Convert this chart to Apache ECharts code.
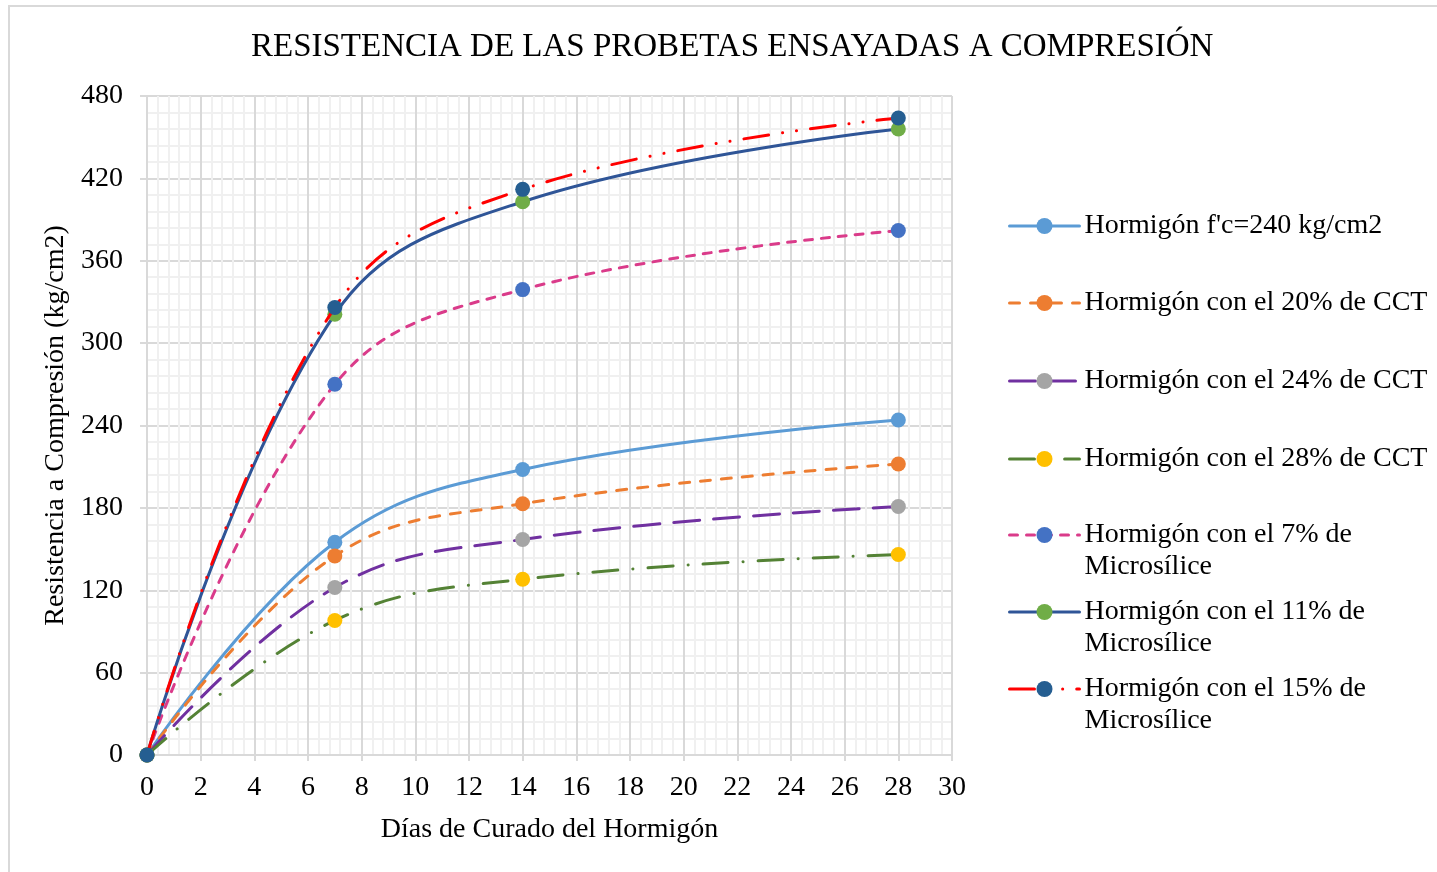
<!DOCTYPE html>
<html>
<head>
<meta charset="utf-8">
<script src="https://cdn.jsdelivr.net/npm/echarts@6/dist/echarts.min.js"></script>
<style>
  html, body { margin: 0; padding: 0; background: #fff; }
  #frame { position: absolute; left: 8px; top: 5px; width: 1440px; height: 880px;
           border-left: 2px solid #d9d9d9; border-top: 2px solid #d9d9d9; }
  #chart { position: absolute; left: 0; top: 0; width: 1437px; height: 872px; }
</style>
</head>
<body>
<div id="frame"></div>
<div id="chart"></div>
<script>
// días de curado
const days = [0, 7, 14, 28];

// resistencias (kg/cm2)
const fc240   = [0, 155, 208, 244];
const cct20   = [0, 145, 183, 212];
const cct24   = [0, 122, 157, 181];
const cct28   = [0, 98, 128, 146];
const micro7  = [0, 270, 339, 382];
const micro11 = [0, 321, 403, 456];
const micro15 = [0, 326, 412, 464];

const names = [
  "Hormigón f'c=240 kg/cm2",
  'Hormigón con el 20% de CCT',
  'Hormigón con el 24% de CCT',
  'Hormigón con el 28% de CCT',
  'Hormigón con el 7% de Microsílice',
  'Hormigón con el 11% de Microsílice',
  'Hormigón con el 15% de Microsílice',
];

const FONT = '"Liberation Serif", "Times New Roman", serif';

const styles = [
  { line: '#5B9BD5', mark: '#5B9BD5', dash: 'solid' },
  { line: '#ED7D31', mark: '#ED7D31', dash: [10, 11] },
  { line: '#7030A0', mark: '#A5A5A5', dash: [26, 14] },
  { line: '#548235', mark: '#FFC000', dash: [25, 15, 0.1, 15] },
  { line: '#DA3B8A', mark: '#4472C4', dash: [8, 9] },
  { line: '#2F5597', mark: '#70AD47', dash: 'solid' },
  { line: '#FF0000', mark: '#255E91', dash: [25, 14, 0.1, 14, 0.1, 14] },
];

const values = [fc240, cct20, cct24, cct28, micro7, micro11, micro15];

const series = values.map((vals, i) => ({
  name: names[i],
  type: 'line',
  smooth: 0.4,
  symbol: 'circle',
  symbolSize: 15,
  data: days.map((d, j) => [d, vals[j]]),
  lineStyle: { color: styles[i].line, width: 3, type: styles[i].dash, cap: 'round' },
  itemStyle: { color: styles[i].mark },
  z: 2 + i,
}));

// centro vertical de cada entrada de la leyenda
const legendCenters = [224, 301, 379, 457, 535, 612, 689];
const legends = names.map((n, i) => {
  const twoLine = n.endsWith('Microsílice');
  return {
    data: [n],
    left: 1003,
    // las entradas de dos líneas llevan una línea vacía arriba para que el icono quede en la primera
    top: twoLine ? legendCenters[i] - 53 : legendCenters[i] - 19,
    orient: 'vertical',
    itemWidth: 70,
    itemHeight: 20,
    itemGap: 0,
    selectedMode: false,
    lineStyle: { width: 3 },
    formatter: name => name.endsWith('Microsílice')
      ? ' \n' + name.replace(' Microsílice', '\nMicrosílice')
      : name,
    textStyle: { fontFamily: FONT, fontSize: 28, color: '#000', lineHeight: 32 },
  };
});

const chart = echarts.init(document.getElementById('chart'));
chart.setOption({
  animation: false,
  backgroundColor: 'transparent',
  title: {
    text: 'RESISTENCIA DE LAS PROBETAS ENSAYADAS A COMPRESIÓN',
    left: 246,
    top: 26,
    textStyle: { fontFamily: FONT, fontSize: 33, fontWeight: 'normal', color: '#000' },
  },
  legend: legends,
  grid: { left: 147, right: 485, top: 96, bottom: 117 },
  xAxis: {
    type: 'value',
    min: 0, max: 30, interval: 2,
    name: 'Días de Curado del Hormigón',
    nameLocation: 'middle',
    nameGap: 61,
    nameTextStyle: { fontFamily: FONT, fontSize: 28, color: '#000' },
    axisLine: { lineStyle: { color: '#d9d9d9', width: 2 } },
    axisTick: { show: true, length: 6, lineStyle: { color: '#d9d9d9', width: 2 } },
    axisLabel: { fontFamily: FONT, fontSize: 28, color: '#000', margin: 19 },
    splitLine: { lineStyle: { color: '#d9d9d9', width: 2 } },
    minorTick: { show: false, splitNumber: 5 },
    minorSplitLine: { show: true, lineStyle: { color: '#f0f0f0', width: 2 } },
  },
  yAxis: {
    type: 'value',
    min: 0, max: 480, interval: 60,
    name: 'Resistencia a Compresión (kg/cm2)',
    nameLocation: 'middle',
    nameGap: 68,
    nameRotate: 90,
    nameTextStyle: { fontFamily: FONT, fontSize: 28, color: '#000' },
    axisLine: { show: true, lineStyle: { color: '#d9d9d9', width: 2 } },
    axisTick: { show: true, length: 7, lineStyle: { color: '#d9d9d9', width: 2 } },
    axisLabel: { fontFamily: FONT, fontSize: 28, color: '#000', margin: 24 },
    splitLine: { lineStyle: { color: '#d9d9d9', width: 2 } },
    minorTick: { show: false, splitNumber: 5 },
    minorSplitLine: { show: true, lineStyle: { color: '#f0f0f0', width: 2 } },
  },
  series,
});
</script>
</body>
</html>
